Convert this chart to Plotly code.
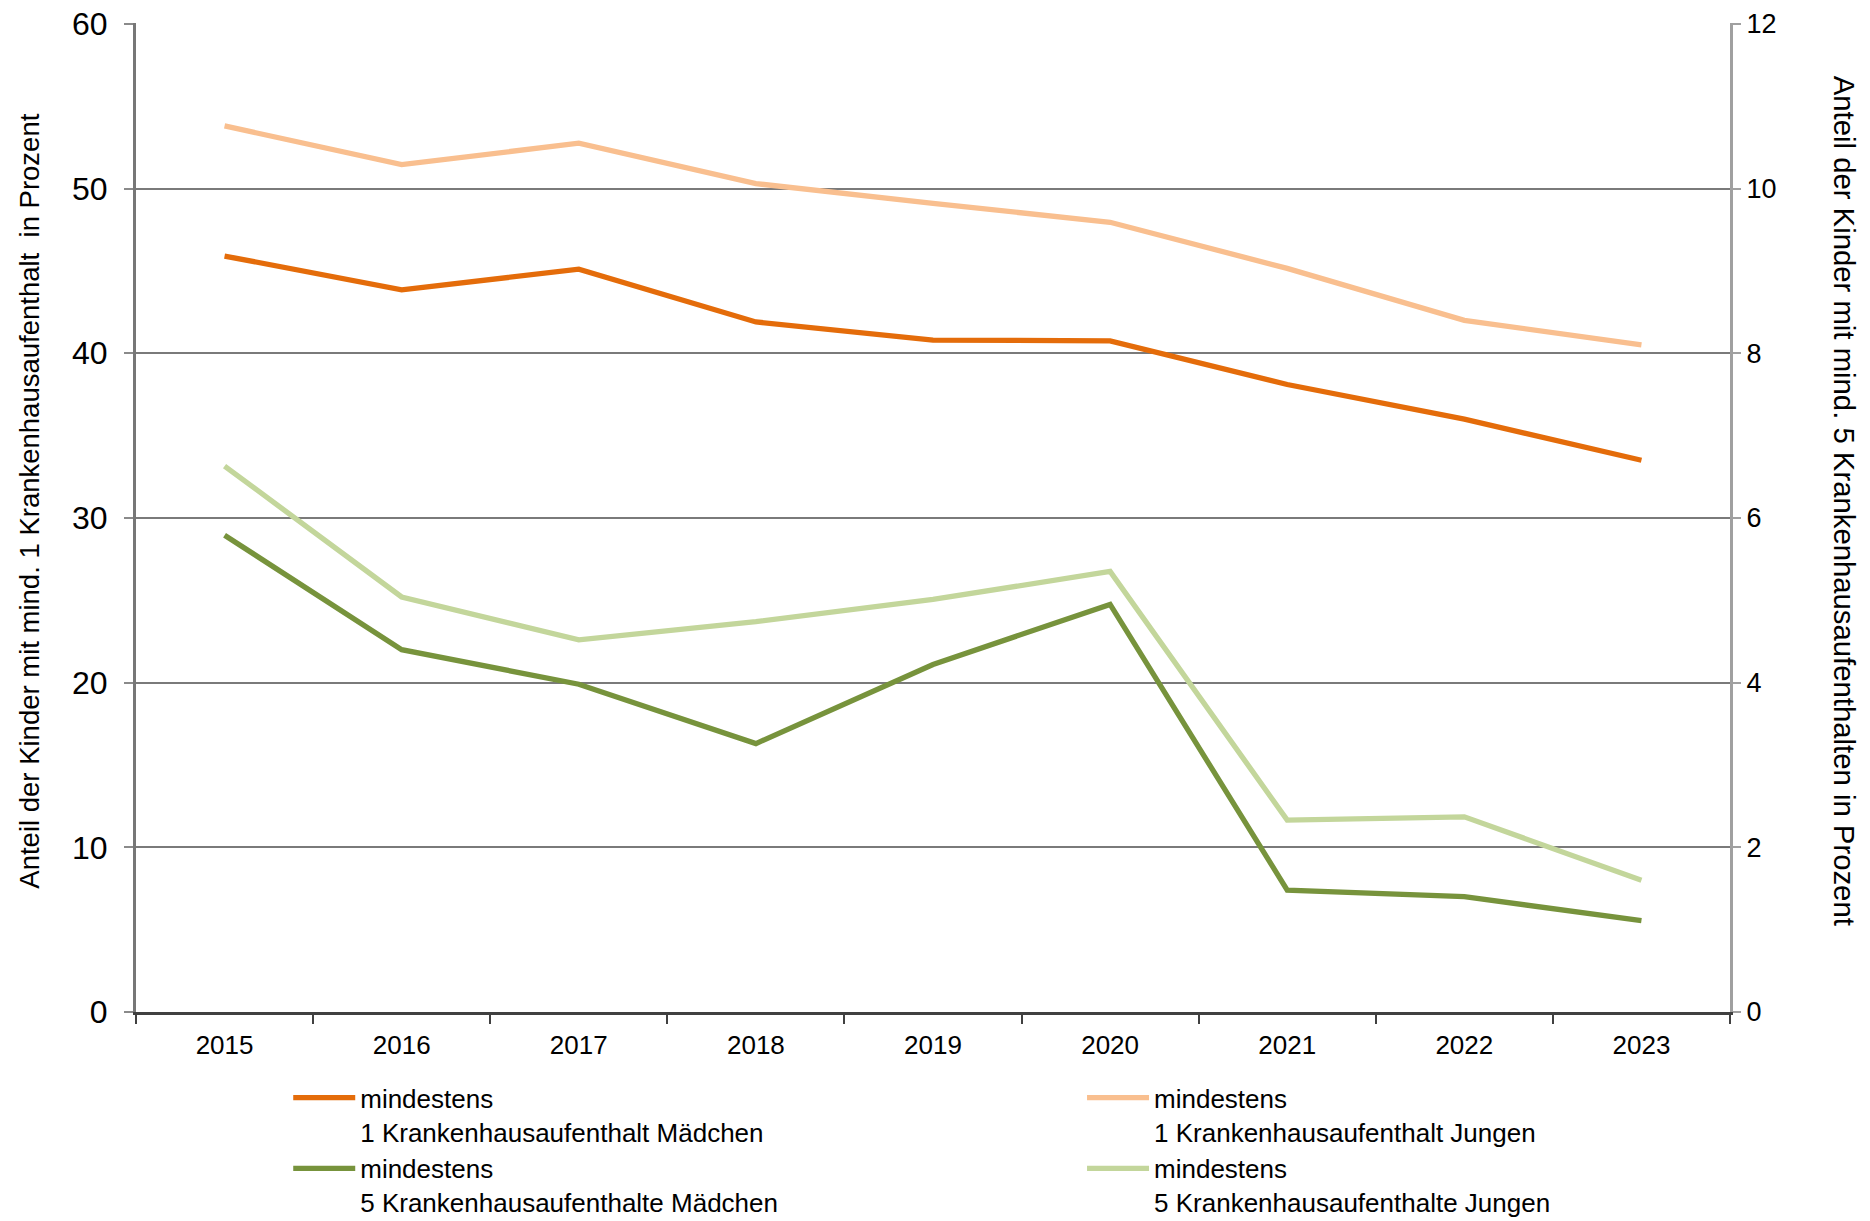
import plotly.graph_objects as go

years = ["2015", "2016", "2017", "2018", "2019", "2020", "2021", "2022", "2023"]
maedchen_1 = [45.9, 43.85, 45.1, 41.9, 40.8, 40.75, 38.1, 36.0, 33.5]
jungen_1 = [53.8, 51.45, 52.75, 50.3, 49.1, 47.95, 45.15, 42.0, 40.5]
maedchen_5 = [5.79, 4.40, 3.98, 3.26, 4.22, 4.95, 1.48, 1.40, 1.11]
jungen_5 = [6.63, 5.04, 4.52, 4.74, 5.01, 5.35, 2.33, 2.37, 1.60]

names = [
    "mindestens<br>1 Krankenhausaufenthalt Mädchen",
    "mindestens<br>1 Krankenhausaufenthalt Jungen",
    "mindestens<br>5 Krankenhausaufenthalte Mädchen",
    "mindestens<br>5 Krankenhausaufenthalte Jungen",
]
colors = ["#E46C0A", "#F9BF8F", "#77933C", "#C3D69B"]

left_title = "Anteil der Kinder mit mind. 1 Krankenhausaufenthalt  in Prozent"
right_title = "Anteil der Kinder mit mind. 5 Krankenhausaufenthalten in Prozent"

FONT = "Liberation Sans, Arial, sans-serif"
LW = 5.3

fig = go.Figure()
fig.add_trace(go.Scatter(x=years, y=maedchen_1, name=names[0], mode="lines",
                         line=dict(color=colors[0], width=LW), yaxis="y",
                         legend="legend", legendgroup="a"))
fig.add_trace(go.Scatter(x=years, y=jungen_1, name=names[1], mode="lines",
                         line=dict(color=colors[1], width=LW), yaxis="y",
                         legend="legend2", legendgroup="b"))
fig.add_trace(go.Scatter(x=years, y=maedchen_5, name=names[2], mode="lines",
                         line=dict(color=colors[2], width=LW), yaxis="y2",
                         legend="legend", legendgroup="c"))
fig.add_trace(go.Scatter(x=years, y=jungen_5, name=names[3], mode="lines",
                         line=dict(color=colors[3], width=LW), yaxis="y2",
                         legend="legend2", legendgroup="d"))

legend_common = dict(
    orientation="v", xanchor="left", y=-0.063, yanchor="top",
    font=dict(size=26, family=FONT), valign="top",
    itemwidth=62, tracegroupgap=0, bgcolor="rgba(0,0,0,0)",
)

fig.update_layout(
    width=1870, height=1221,
    margin=dict(l=136, r=140, t=23, b=209, autoexpand=False),
    paper_bgcolor="white", plot_bgcolor="white",
    font=dict(family=FONT, color="black"),
    xaxis=dict(
        type="category", range=[-0.5, 8.5], tickson="boundaries",
        ticks="outside", ticklen=9,
        tickwidth=1.5, tickcolor="#404040", ticklabelstandoff=8,
        showline=True, linecolor="#404040", linewidth=3,
        showgrid=False, zeroline=False,
        tickfont=dict(size=26, family=FONT),
    ),
    yaxis=dict(
        range=[0, 60.05], tickvals=[0, 10, 20, 30, 40, 50, 60],
        ticks="outside", ticklen=9, tickwidth=1.5,
        tickcolor="#8a8a8a", ticklabelstandoff=10,
        showline=True, linecolor="#777777", linewidth=3,
        showgrid=True, gridcolor="#7a7a7a", gridwidth=1.5, zeroline=False,
        tickfont=dict(size=32, family=FONT),
    ),
    yaxis2=dict(
        range=[0, 12.01], tickvals=[0, 2, 4, 6, 8, 10, 12],
        overlaying="y", side="right", anchor="x",
        ticks="outside", ticklen=8, tickwidth=1.5, tickcolor="#a0a0a0",
        ticklabelstandoff=0,
        showline=True, linecolor="#a0a0a0", linewidth=3,
        showgrid=False, zeroline=False,
        tickfont=dict(size=27, family=FONT),
    ),
    showlegend=True,
    legend=dict(x=0.0955, **legend_common),
    legend2=dict(x=0.5935, **legend_common),
    annotations=[
        dict(text=left_title, textangle=-90, xref="paper", yref="paper",
             x=-0.0665, y=0.517, xanchor="center", yanchor="middle",
             showarrow=False, font=dict(size=27.5, family=FONT)),
        dict(text=right_title, textangle=90, xref="paper", yref="paper",
             x=1.0715, y=0.517, xanchor="center", yanchor="middle",
             showarrow=False, font=dict(size=29.3, family=FONT)),
    ],
)

fig.write_html("out.html", config={"displayModeBar": False},
               post_script="document.body.style.margin='0';")
